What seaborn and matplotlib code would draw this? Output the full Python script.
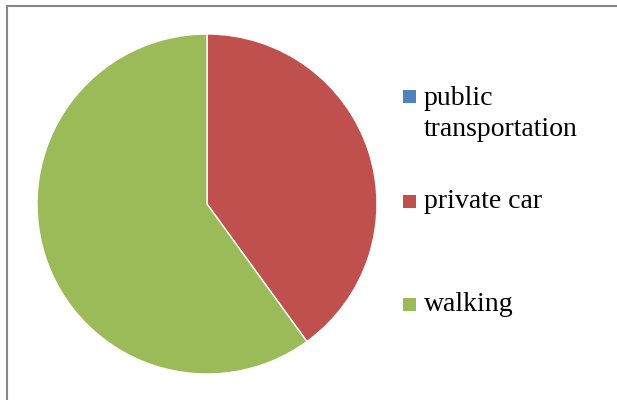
import matplotlib
matplotlib.use("Agg")
import matplotlib.pyplot as plt
from matplotlib.patches import Rectangle
from matplotlib.lines import Line2D
import seaborn as sns

# Transport mode shares
modes = ["public\ntransportation", "private car", "walking"]
shares = [0, 40, 60]
colors = ["#4F81BD", "#C0504D", "#9BBB59"]

sns.set_theme(style="white")
plt.rcParams["font.family"] = ["Liberation Serif", "DejaVu Serif"]

W, H = 617, 400
fig = plt.figure(figsize=(W / 100, H / 100), dpi=100)

# Pie centred at (207, 204) px with radius 170 px
cx, cy, r = 207, 204, 170
ax = fig.add_axes([(cx - r) / W, (H - cy - r) / H, 2 * r / W, 2 * r / H])
ax.pie(shares, colors=sns.color_palette(colors), startangle=90,
       counterclock=False, radius=1.0)
ax.set_xlim(-1, 1)
ax.set_ylim(-1, 1)
ax.set_aspect("equal")
ax.axis("off")

# Chart frame (left and top edges visible)
frame_col = "#868686"
fig.add_artist(Line2D([7 / W, 7 / W], [0, 1 - 6 / H], color=frame_col, lw=1.5,
                      transform=fig.transFigure))
fig.add_artist(Line2D([7 / W, 1], [1 - 6 / H, 1 - 6 / H], color=frame_col, lw=1.5,
                      transform=fig.transFigure))

# Legend entries: marker centre y, text baseline y (px)
marker_y = [96, 201, 304]
baseline_y = [105, 208, 311]
line_gap = 31
for label, col, my, by in zip(modes, colors, marker_y, baseline_y):
    fig.add_artist(Rectangle(((403) / W, 1 - (my + 6.5) / H), 13 / W, 13 / H,
                             facecolor=col, edgecolor="none",
                             transform=fig.transFigure))
    for i, part in enumerate(label.split("\n")):
        fig.text(424 / W, 1 - (by + i * line_gap) / H, part, fontsize=20,
                 color="black", ha="left", va="baseline")

fig.savefig("out.png", dpi=100, facecolor="white")
